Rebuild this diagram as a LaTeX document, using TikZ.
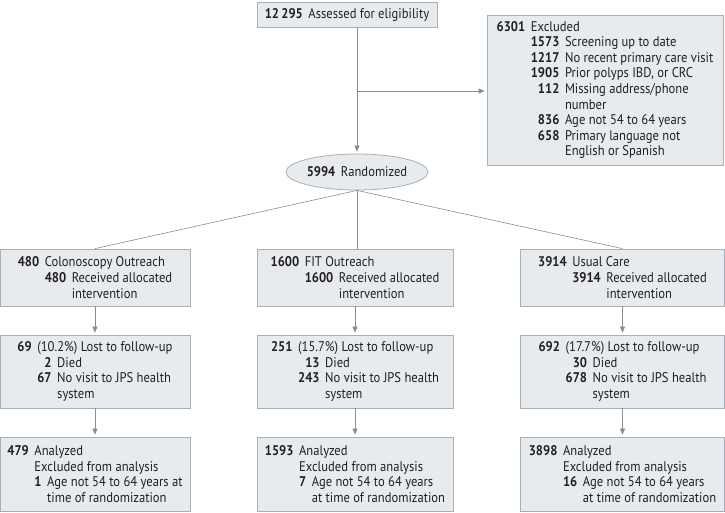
\documentclass[tikz,border=0pt]{standalone}
\usepackage{fontspec}
\setmainfont[FakeStretch=0.9]{PT Sans}
\usetikzlibrary{arrows.meta,shapes.geometric}

\definecolor{boxfill}{HTML}{E7EBEE}
\definecolor{boxline}{HTML}{A9AFB5}
\definecolor{flowline}{HTML}{8C8C8C}
\definecolor{ink}{HTML}{231F20}

% bold count, indent by a count, right-aligned count
\newcommand{\gap}{\hspace{0.4em}}
\newcommand{\nb}[1]{\textbf{#1}\gap}
\newcommand{\ind}[1]{\phantom{\textbf{#1}\gap}}
\newcommand{\rnum}[2]{\hphantom{\textbf{#1}}\llap{\textbf{#2}}\gap}

\tikzset{
  every node/.style={text=ink, font=\fontsize{14}{15.6}\selectfont},
  box/.style={draw=boxline, fill=boxfill, line width=0.8pt, align=left, inner sep=0pt},
  flow/.style={draw=flowline, line width=0.6pt},
  arr/.style={flow, -{Triangle[length=6pt,width=5pt]}, shorten >=2pt}
}

\begin{document}
\begin{tikzpicture}[x=1pt, y=-1pt]
\useasboundingbox (0,0) rectangle (725,512);

% screening and randomization
\node[box, minimum width=180, minimum height=25] (elig) at (347,14.5)
  {\nb{12\,295}Assessed for eligibility};
\node[box, minimum width=236, minimum height=150] (excl) at (605,90)
  {\nb{6301}Excluded\\
   \ind{6301}\rnum{1573}{1573}Screening up to date\\
   \ind{6301}\rnum{1573}{1217}No recent primary care visit\\
   \ind{6301}\rnum{1573}{1905}Prior polyps IBD, or CRC\\
   \ind{6301}\rnum{1573}{112}Missing address/phone\\
   \ind{6301}\ind{1573}number\\
   \ind{6301}\rnum{1573}{836}Age not 54 to 64 years\\
   \ind{6301}\rnum{1573}{658}Primary language not\\
   \ind{6301}\ind{1573}English or Spanish};
\node[box, ellipse, minimum width=136, minimum height=36] (rand) at (357,172)
  {\nb{5994}Randomized};
\coordinate (split) at (357,91);

% allocation
\node[box, minimum width=190, minimum height=57] (colo) at (95,277.5)
  {\nb{480}Colonoscopy Outreach\\
   \ind{480}\nb{480}Received allocated\\
   \ind{480}\ind{480}intervention};
\node[box, minimum width=196, minimum height=57] (fit) at (355,277.5)
  {\nb{1600}FIT Outreach\\
   \ind{1600}\nb{1600}Received allocated\\
   \ind{1600}\ind{1600}intervention};
\node[box, minimum width=204, minimum height=57] (usual) at (622.5,277.5)
  {\nb{3914}Usual Care\\
   \ind{3914}\nb{3914}Received allocated\\
   \ind{3914}\ind{3914}intervention};

% follow-up
\node[box, minimum width=190, minimum height=73] (colofu) at (95,371.5)
  {\nb{69}(10.2\%) Lost to follow-up\\
   \ind{69}\rnum{67}{2}Died\\
   \ind{69}\rnum{67}{67}No visit to JPS health\\
   \ind{69}\ind{67}system};
\node[box, minimum width=196, minimum height=73] (fitfu) at (355,371.5)
  {\nb{251}(15.7\%) Lost to follow-up\\
   \ind{251}\rnum{243}{13}Died\\
   \ind{251}\rnum{243}{243}No visit to JPS health\\
   \ind{251}\ind{243}system};
\node[box, minimum width=204, minimum height=73] (usualfu) at (622.5,371.5)
  {\nb{692}(17.7\%) Lost to follow-up\\
   \ind{692}\rnum{678}{30}Died\\
   \ind{692}\rnum{678}{678}No visit to JPS health\\
   \ind{692}\ind{678}system};

% analysis
\node[box, minimum width=190, minimum height=74] (coloan) at (95,474)
  {\nb{479}Analyzed\\
   \ind{479}Excluded from analysis\\
   \ind{479}\nb{1}Age not 54 to 64 years at\\
   \ind{479}\ind{1}time of randomization};
\node[box, minimum width=196, minimum height=74] (fitan) at (355,474)
  {\nb{1593}Analyzed\\
   \ind{1593}Excluded from analysis\\
   \ind{1593}\nb{7}Age not 54 to 64 years\\
   \ind{1593}\ind{7}at time of randomization};
\node[box, minimum width=204, minimum height=74] (usualan) at (622.5,474)
  {\nb{3898}Analyzed\\
   \ind{3898}Excluded from analysis\\
   \ind{3898}\nb{16}Age not 54 to 64 years\\
   \ind{3898}\ind{16}at time of randomization};

% connectors
\draw[flow] (elig.south -| split) -- (split);
\draw[arr] (split) -- (rand.north);
\draw[arr] (split) -- (split -| excl.west);
\draw[flow] (rand.south) -- (colo.north);
\draw[flow] (rand.south) -- (fit.north -| rand.south);
\draw[flow] (rand.south) -- (usual.north);
\draw[arr] (colo) -- (colofu);
\draw[arr] (fit) -- (fitfu);
\draw[arr] (usual) -- (usualfu);
\draw[arr] (colofu) -- (coloan);
\draw[arr] (fitfu) -- (fitan);
\draw[arr] (usualfu) -- (usualan);
\end{tikzpicture}
\end{document}
